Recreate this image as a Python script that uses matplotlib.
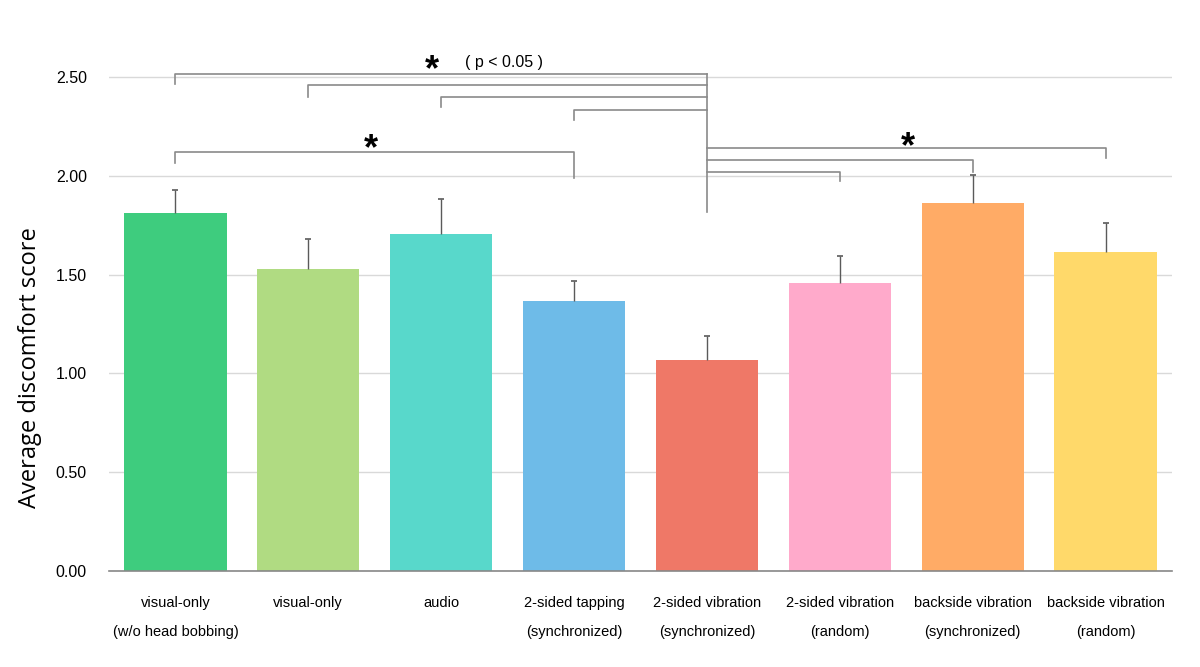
import matplotlib
matplotlib.use("Agg")
import matplotlib.pyplot as plt

categories = ["visual-only\n(w/o head bobbing)", "visual-only", "audio",
              "2-sided tapping\n(synchronized)", "2-sided vibration\n(synchronized)",
              "2-sided vibration\n(random)", "backside vibration\n(synchronized)",
              "backside vibration\n(random)"]
means = [1.81, 1.53, 1.705, 1.366, 1.068, 1.457, 1.862, 1.614]
errors = [0.12, 0.15, 0.18, 0.10, 0.12, 0.14, 0.145, 0.15]
colors = ["#3ECC7E", "#B0DB82", "#58D8CB", "#6EBBE8", "#EF7867", "#FFAACB", "#FFAB66", "#FFD96A"]
yticks = [0.0, 0.5, 1.0, 1.5, 2.0, 2.5]

# significance brackets
hub = 4
left_brackets = [(0, 2.517, 2.466), (1, 2.458, 2.40), (2, 2.397, 2.35), (3, 2.333, 2.283)]
right_brackets = [(7, 2.140, 2.089), (6, 2.083, 2.022), (5, 2.022, 1.975)]
hub_bottom = 1.815

fig = plt.figure(figsize=(12, 6.67), dpi=100)
ax = fig.add_axes([109/1200, 1-571/667, (1172-109)/1200, 563/667])
x = list(range(len(means)))
ax.bar(x, means, width=0.77, color=colors, zorder=2)
tops = [m + e for m, e in zip(means, errors)]
ax.vlines(x, means, tops, color="#5a5a5a", lw=1.0, zorder=3)
ax.plot(x, tops, ls="none", marker="_", ms=5, mew=1.2, color="#5a5a5a", zorder=3)
ax.set_xlim(-0.5, 7.5)
ax.set_ylim(0, 2.85)
ax.set_yticks(yticks)
ax.set_yticklabels([f"{v:.2f}" for v in yticks], fontsize=11.5, family="Liberation Sans")
ax.yaxis.grid(True, color="#d9d9d9", lw=1, zorder=0)
ax.set_axisbelow(True)
ax.tick_params(axis="y", length=0, pad=16)
ax.tick_params(axis="x", length=0, pad=18)
ax.set_xticks(x)
ax.set_xticklabels(categories, fontsize=10.5, linespacing=2.4,
                   family=["Liberation Sans Narrow", "Liberation Sans", "DejaVu Sans"])
for s in ["top", "right", "left"]:
    ax.spines[s].set_visible(False)
ax.spines["bottom"].set_color("#888888")
ax.spines["bottom"].set_linewidth(1.2)

bc = "#8a8a8a"
blw = 1.2
ax.plot([hub, hub], [left_brackets[0][1], hub_bottom], color=bc, lw=blw, zorder=4)
for lx, y, drop in left_brackets:
    ax.plot([lx, lx, hub], [drop, y, y], color=bc, lw=blw, zorder=4)
for rx, y, drop in right_brackets:
    ax.plot([hub, rx, rx], [y, y, drop], color=bc, lw=blw, zorder=4)
ax.plot([0, 0, 3, 3], [2.067, 2.123, 2.123, 1.99], color=bc, lw=blw, zorder=4)

star_kw = dict(fontsize=26, ha="center", va="center", family="Liberation Sans", weight="bold")
ax.text(1.93, 2.535, "*", **star_kw)
ax.text(2.47, 2.575, "( p < 0.05 )", fontsize=11.5, ha="center", va="center", family="Liberation Sans")
ax.text(1.47, 2.135, "*", **star_kw)
ax.text(5.51, 2.145, "*", **star_kw)

fig.text(30/1200, 1-368/667, "Average discomfort score", rotation=90, fontsize=17,
         ha="center", va="center", family="Open Sans")

fig.savefig("out.png", dpi=100)
